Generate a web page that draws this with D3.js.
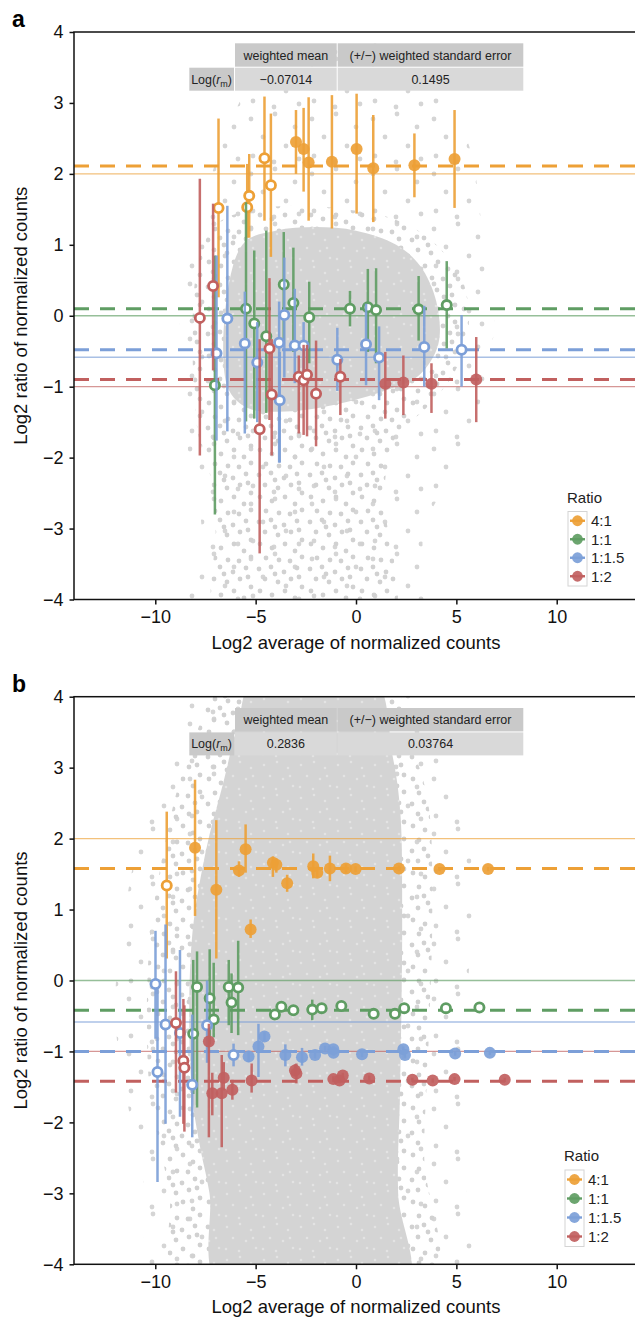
<!DOCTYPE html>
<html>
<head>
<meta charset="utf-8">
<script src="https://cdn.jsdelivr.net/npm/d3@7"></script>
<style>
  body { margin: 0; background: #fff; }
  svg { display: block; font-family: "Liberation Sans", Arial, Helvetica, sans-serif; }
</style>
</head>
<body>
<svg id="chart" width="635" height="1317"></svg>
<script>
// ---- data ----
const ratioLabels = ["4:1", "1:1", "1:1.5", "1:2"];
const trueLog2 = [2, 0, -0.585, -1];
const meanA = [2.11, 0.10, -0.48, -0.90];
const meanB = [1.58, -0.42, -1.00, -1.42];
const xTicks = [-10, -5, 0, 5, 10];
const yTicks = [-4, -3, -2, -1, 0, 1, 2, 3, 4];
const tableHead = ["weighted mean", "(+/\u2212) weighted standard error"];
const tableA = ["\u22120.07014", "0.1495"];
const tableB = ["0.2836", "0.03764"];

// [log2 average, log2 ratio, lower, upper, filled]
const orangeA = [
  [-6.85, 1.52, 0.26, 2.78, 0], [-5.42, 1.53, 1.10, 2.14, 0], [-5.32, 1.69, 1.10, 2.28, 0],
  [-4.56, 2.22, 1.34, 3.09, 0], [-4.24, 1.84, 0.83, 2.85, 0], [-2.99, 2.45, 2.00, 2.90, 1],
  [-2.61, 2.35, 1.75, 2.93, 1], [-2.36, 2.16, 1.34, 3.08, 1], [-1.20, 2.17, 1.23, 3.11, 1],
  [0.03, 2.35, 1.44, 3.13, 1], [0.86, 2.08, 1.32, 2.83, 1], [2.91, 2.12, 1.67, 2.57, 1],
  [4.91, 2.21, 1.52, 2.90, 1]
];
const greenA = [
  [-7.03, -0.98, -2.80, 0.85, 0], [-5.48, 0.10, -1.49, 1.60, 0], [-5.07, -0.11, -1.45, 0.92, 0],
  [-4.47, -0.29, -1.37, 1.20, 0], [-3.60, 0.44, -0.38, 1.18, 0], [-3.12, 0.18, -0.51, 0.96, 0],
  [-2.33, -0.02, -0.67, 0.48, 0], [-0.30, 0.10, -0.15, 0.35, 0], [0.59, 0.12, -0.51, 0.66, 0],
  [1.00, 0.08, -0.67, 0.67, 0], [3.12, 0.09, -0.35, 0.56, 0], [4.52, 0.15, -0.46, 0.77, 0]
];
const blueA = [
  [-6.95, -0.53, -1.76, 0.85, 0], [-6.41, -0.04, -1.63, 1.55, 0], [-5.54, -0.39, -1.66, 0.34, 0],
  [-4.92, -0.66, -1.50, -0.09, 0], [-3.83, -0.38, -2.07, 0.20, 0], [-3.57, 0.01, -0.87, 0.82, 0],
  [-3.05, -0.42, -0.95, 0.38, 0], [-2.61, -0.42, -0.98, -0.09, 0], [-3.80, -1.19, -2.07, -0.51, 0],
  [-0.93, -0.62, -1.06, -0.17, 0], [0.50, -0.40, -0.98, 0.17, 0], [1.15, -0.59, -1.19, -0.15, 0],
  [3.40, -0.44, -1.00, 0.14, 0], [5.26, -0.48, -1.00, 0.01, 0]
];
const redA = [
  [-7.78, -0.03, -1.97, 1.93, 0], [-7.12, 0.42, -0.77, 1.58, 0], [-4.80, -1.60, -3.35, -0.33, 0],
  [-4.31, -0.46, -1.47, 0.53, 0], [-4.20, -1.11, -1.97, -0.33, 0], [-2.85, -0.86, -1.66, -0.56, 0],
  [-2.61, -0.91, -1.68, -0.41, 0], [-2.44, -0.83, -1.70, -0.41, 0], [-1.99, -1.10, -1.84, -0.35, 0],
  [-0.78, -0.86, -1.40, -0.61, 0], [1.46, -0.96, -1.45, -0.51, 1], [2.36, -0.94, -1.40, -0.56, 1],
  [3.76, -0.96, -1.37, -0.67, 1], [5.99, -0.90, -1.50, -0.30, 1]
];

const orangeB = [
  [-9.43, 1.34, 0.31, 2.38, 0], [-8.02, 1.87, 0.91, 2.83, 1], [-6.96, 1.28, 0.31, 2.26, 1],
  [-5.83, 1.55, 1.46, 1.68, 1], [-5.50, 1.85, 1.52, 2.20, 1], [-5.25, 0.72, 0.60, 0.86, 1],
  [-4.14, 1.66, 1.46, 1.75, 1], [-3.97, 1.63, 1.52, 1.72, 1], [-3.43, 1.37, 1.25, 1.49, 1],
  [-2.13, 1.61, 1.44, 1.79, 1], [-1.93, 1.52, 1.45, 1.60, 1], [-1.30, 1.58, 1.40, 1.76, 1],
  [-0.50, 1.58, 1.52, 1.64, 1], [-0.02, 1.57, 1.53, 1.61, 1], [2.14, 1.58, 1.54, 1.62, 1],
  [4.16, 1.57, 1.54, 1.60, 1], [6.58, 1.57, 1.54, 1.60, 1]
];
const greenB = [
  [-7.92, -0.09, -1.79, 0.41, 0], [-8.11, -0.75, -1.60, 0.29, 0], [-7.29, -0.25, -0.90, 0.44, 0],
  [-7.09, -0.55, -0.80, 0.25, 0], [-6.34, -0.09, -0.63, 0.29, 0], [-6.20, -0.31, -0.74, 0.10, 0],
  [-5.87, -0.10, -0.77, 0.56, 0], [-4.04, -0.48, -0.52, -0.44, 0], [-3.72, -0.37, -0.42, -0.32, 0],
  [-3.12, -0.42, -0.46, -0.38, 0], [-2.18, -0.41, -0.56, -0.27, 0], [-1.71, -0.39, -0.43, -0.35, 0],
  [-0.73, -0.36, -0.40, -0.32, 0], [0.88, -0.47, -0.51, -0.43, 0], [1.94, -0.47, -0.51, -0.43, 0],
  [2.40, -0.39, -0.43, -0.35, 0], [4.48, -0.39, -0.42, -0.36, 0], [6.15, -0.38, -0.41, -0.35, 0]
];
const blueB = [
  [-9.99, -0.05, -0.82, 0.70, 0], [-9.89, -1.29, -2.84, -0.10, 0], [-9.49, -0.62, -2.02, 0.79, 0],
  [-8.77, -0.74, -1.92, 0.43, 0], [-8.16, -1.47, -2.21, -0.48, 0], [-7.42, -0.63, -1.16, 0.00, 0],
  [-6.10, -1.05, -1.21, -0.89, 0], [-5.35, -1.07, -1.15, -0.99, 1], [-4.86, -0.93, -1.36, -0.61, 1],
  [-4.56, -0.79, -0.85, -0.73, 1], [-3.52, -1.05, -1.21, -0.90, 1], [-2.69, -1.08, -1.20, -0.95, 1],
  [-2.04, -1.05, -1.10, -1.00, 1], [-1.54, -0.96, -1.00, -0.92, 1], [-1.13, -0.97, -1.01, -0.93, 1],
  [-1.12, -1.02, -1.06, -0.98, 1], [0.30, -1.04, -1.08, -1.00, 1], [2.36, -0.97, -1.01, -0.93, 1],
  [2.44, -1.05, -1.09, -1.01, 1], [4.94, -1.03, -1.06, -1.00, 1], [6.67, -1.02, -1.05, -0.99, 1]
];
const redB = [
  [-8.97, -0.60, -1.58, 0.13, 0], [-8.60, -1.13, -2.02, -0.26, 0], [-8.55, -1.23, -2.13, -0.35, 0],
  [-7.33, -0.86, -2.21, -0.61, 1], [-7.16, -1.59, -1.90, -1.30, 1], [-6.69, -1.59, -2.35, -1.05, 1],
  [-6.59, -1.37, -1.55, -1.15, 1], [-6.16, -1.54, -1.68, -1.40, 1], [-5.20, -1.41, -1.58, -1.17, 1],
  [-3.04, -1.27, -1.35, -1.18, 1], [-2.97, -1.31, -1.45, -1.17, 1], [-1.13, -1.39, -1.43, -1.35, 1],
  [-0.82, -1.41, -1.45, -1.37, 1], [-0.66, -1.34, -1.38, -1.30, 1], [0.66, -1.38, -1.42, -1.34, 1],
  [2.81, -1.40, -1.43, -1.37, 1], [3.82, -1.41, -1.44, -1.38, 1], [4.91, -1.39, -1.42, -1.36, 1],
  [7.41, -1.40, -1.43, -1.37, 1]
];

// outlines of the grey background cloud (sparse / medium / dense parts)
const cloudSparseA = [[-8.7,-1.2],[-8.6,0.6],[-7.6,1.6],[-6.3,2.7],[-4.8,3.4],[-2,3.6],[1,3.95],[3.5,3.3],[5.5,2.5],[6.3,1.2],[6.9,0],[6.2,-1.2],[4.8,-2.2],[3.4,-3],[3,-4.3],[-8.3,-4.3],[-7.7,-3],[-8.3,-2]];
const cloudMediumA = [[-7.9,-1.6],[-7.9,0.7],[-6.9,1.3],[-5,1.5],[-3,1.55],[-0.5,1.5],[2,1.35],[3.8,1.05],[5.3,0.5],[5.6,-0.2],[4.9,-0.8],[3.5,-1.3],[2,-1.7],[1.4,-2.5],[1.7,-4.3],[-6.8,-4.3],[-7,-3],[-7.3,-2.2]];
const cloudDenseA = [[-6.4,-1.0],[-6.3,0.5],[-5.5,1.05],[-4,1.2],[-2,1.25],[0,1.2],[2,1.0],[3.2,0.7],[4,0.2],[4.1,-0.4],[3.1,-0.85],[1.5,-1.05],[-1,-1.25],[-3.5,-1.35],[-5.4,-1.3]];
const cloudSparseB = [[-12,-0.5],[-11.5,1],[-10.5,2.3],[-9,3.4],[-7.5,4.3],[2,4.3],[3.5,3.5],[5.2,2.6],[5.8,1.5],[5.5,-0.5],[5.3,-2.5],[5.5,-4.3],[-10,-4.3],[-10.5,-3],[-11.2,-2]];
const cloudMediumB = [[-10.3,-1.5],[-10.3,0.5],[-9.6,1.8],[-8.8,2.8],[-7.8,3.6],[-6.8,4.3],[1.5,4.3],[2.8,3.3],[3.6,2.5],[3.8,1],[3.6,-1],[3.4,-2.5],[3.8,-4.3],[-8.8,-4.3],[-9.3,-3],[-9.8,-2.3]];
const cloudDenseB = [[-8.2,-1.5],[-8.2,0.5],[-7.5,1.8],[-6.6,2.8],[-5.9,3.6],[-5,4.3],[0.8,4.3],[1.8,3.2],[2.2,2.4],[2.3,0.8],[2.2,-1.5],[2.1,-3],[2.5,-4.3],[-6.8,-4.3],[-7.3,-3],[-7.8,-2.3]];

const colors = ["#eda036", "#5f9d63", "#7c9fd8", "#c1605f"];

const svg = d3.select("#chart");
const defs = svg.append("defs");

// stipple textures for the grey cloud (irregular dots so the tiling is less visible)
function stipple(id, w, h, dots, bg, dotFill, r) {
  const p = defs.append("pattern").attr("id", id)
    .attr("patternUnits", "userSpaceOnUse").attr("width", w).attr("height", h);
  if (bg) p.append("rect").attr("width", w).attr("height", h).attr("fill", bg);
  dots.forEach(d => p.append("circle").attr("cx", d[0]).attr("cy", d[1]).attr("r", r).attr("fill", dotFill));
}
stipple("dotsSparse", 61, 55,
  [[7,9],[31,4],[51,17],[19,27],[42,36],[9,46],[55,49],[30,52]], null, "#d5d5d5", 2.4);
stipple("dotsMedium", 51, 47,
  [[4,5],[16,3],[29,8],[42,4],[10,15],[23,18],[36,15],[47,23],[5,27],[17,31],[30,27],[40,34],
   [11,41],[24,43],[35,44],[47,40],[20,10],[44,13]], null, "#d1d1d1", 2.4);
stipple("dotsDense", 37, 33,
  [[5,6],[18,3],[29,9],[11,17],[24,20],[34,27],[4,28],[17,30],[31,17]], "#d4d4d4", "#e3e3e3", 1.3);

function drawPanel(p) {
  const x = d3.scaleLinear().domain([-14.05, 14]).range([74, 637]);
  const y = d3.scaleLinear().domain([-4, 4]).range([p.bottom, p.top]);
  const g = svg.append("g");

  defs.append("clipPath").attr("id", "clip" + p.key)
    .append("rect").attr("x", 74).attr("y", p.top).attr("width", 563).attr("height", p.bottom - p.top);
  const plot = g.append("g").attr("clip-path", `url(#clip${p.key})`);

  // background cloud
  const blob = d3.line().x(d => x(d[0])).y(d => y(d[1])).curve(d3.curveCatmullRomClosed);
  [[p.sparse, "url(#dotsSparse)"], [p.medium, "url(#dotsMedium)"], [p.dense, "url(#dotsDense)"]]
    .forEach(c => plot.append("path").attr("d", blob(c[0])).attr("fill", c[1]));

  // expected ratios (thin) and weighted estimates (dashed)
  plot.selectAll(".trueLine").data(trueLog2).enter().append("line")
    .attr("x1", 74).attr("x2", 637)
    .attr("y1", d => y(d)).attr("y2", d => y(d))
    .attr("stroke", (d, i) => colors[i]).attr("stroke-width", 1.3).attr("opacity", 0.65);
  plot.selectAll(".meanLine").data(p.means).enter().append("line")
    .attr("x1", 74).attr("x2", 637)
    .attr("y1", d => y(d)).attr("y2", d => y(d))
    .attr("stroke", (d, i) => colors[i]).attr("stroke-width", 3)
    .attr("stroke-dasharray", "15,11");

  // error bars + markers, one group per ratio
  p.series.forEach((s, i) => {
    const sg = plot.append("g");
    sg.selectAll("line").data(s).enter().append("line")
      .attr("x1", d => x(d[0])).attr("x2", d => x(d[0]))
      .attr("y1", d => y(d[2])).attr("y2", d => y(d[3]))
      .attr("stroke", colors[i]).attr("stroke-width", 2.5).attr("opacity", 0.9);
    sg.selectAll("circle").data(s).enter().append("circle")
      .attr("cx", d => x(d[0])).attr("cy", d => y(d[1]))
      .attr("r", d => d[4] ? 6 : 4.6)
      .attr("fill", d => d[4] ? colors[i] : "#fff")
      .attr("fill-opacity", d => d[4] ? 0.92 : 1)
      .attr("stroke", d => d[4] ? "none" : colors[i])
      .attr("stroke-width", 2.8);
  });

  // summary table
  const t = g.append("g").attr("transform", `translate(0,${p.top})`).style("font-size", "12.5px").attr("fill", "#222");
  const cells = [
    {x0: 235, x1: 336.7, y0: 11.3, y1: 34.7, fill: "#c9c9c9", text: tableHead[0]},
    {x0: 337.7, x1: 523.3, y0: 11.3, y1: 34.7, fill: "#c9c9c9", text: tableHead[1]},
    {x0: 189.3, x1: 234, y0: 35.7, y1: 58.7, fill: "#c9c9c9", text: null},
    {x0: 235, x1: 336.7, y0: 35.7, y1: 58.7, fill: "#d9d9d9", text: p.table[0]},
    {x0: 337.7, x1: 523.3, y0: 35.7, y1: 58.7, fill: "#d9d9d9", text: p.table[1]}
  ];
  cells.forEach(c => {
    t.append("rect").attr("x", c.x0).attr("y", c.y0).attr("width", c.x1 - c.x0).attr("height", c.y1 - c.y0).attr("fill", c.fill);
    if (c.text) t.append("text").attr("x", (c.x0 + c.x1) / 2).attr("y", (c.y0 + c.y1) / 2 + 4.5)
      .attr("text-anchor", "middle").text(c.text);
  });
  const lg = t.append("text").attr("x", 211.6).attr("y", 51.5).attr("text-anchor", "middle");
  lg.append("tspan").text("Log(");
  lg.append("tspan").style("font-style", "italic").text("r");
  lg.append("tspan").attr("dy", 3).style("font-size", "9px").text("m");
  lg.append("tspan").attr("dy", -3).text(")");

  // frame and axes
  g.append("rect").attr("x", 74).attr("y", p.top).attr("width", 563).attr("height", p.bottom - p.top)
    .attr("fill", "none").attr("stroke", "#111").attr("stroke-width", 1.5);
  const ya = g.append("g").attr("transform", "translate(74,0)")
    .call(d3.axisLeft(y).tickValues(yTicks).tickSize(4.5).tickPadding(6).tickFormat(d3.format("d")));
  const xa = g.append("g").attr("transform", `translate(0,${p.bottom})`)
    .call(d3.axisBottom(x).tickValues(xTicks).tickSize(5).tickPadding(6).tickFormat(d3.format("d")));
  [ya, xa].forEach(a => {
    a.select(".domain").remove();
    a.selectAll("line").attr("stroke", "#111").attr("stroke-width", 1.5);
    a.selectAll("text").attr("fill", "#111").style("font-size", "18px")
      .style("font-family", "'Liberation Sans', Arial, sans-serif");
  });

  g.append("text").attr("x", 356).attr("y", p.bottom + 49).attr("text-anchor", "middle")
    .style("font-size", "18.5px").attr("fill", "#111").text("Log2 average of normalized counts");
  g.append("text").attr("transform", `translate(27,${(p.top + p.bottom) / 2}) rotate(-90)`)
    .attr("text-anchor", "middle").style("font-size", "18.5px").attr("fill", "#111")
    .text("Log2 ratio of normalized counts");
  g.append("text").attr("x", 12).attr("y", p.top - 5).style("font-size", "23px").style("font-weight", "bold")
    .attr("fill", "#000").text(p.key);

  // legend
  const L = g.append("g").attr("transform", `translate(${p.legX},${p.legY})`);
  L.append("text").attr("x", -1).attr("y", -9).style("font-size", "15px").attr("fill", "#222").text("Ratio");
  L.append("rect").attr("x", 0).attr("y", 0).attr("width", 19).attr("height", 4 * p.legStep + 0.5)
    .attr("fill", "#fff").attr("stroke", "#d4d4d4").attr("stroke-width", 1);
  ratioLabels.forEach((r, i) => {
    const cy = p.legStep * (i + 0.5);
    L.append("line").attr("x1", 2).attr("x2", 17).attr("y1", cy).attr("y2", cy)
      .attr("stroke", colors[i]).attr("stroke-width", 2.4);
    L.append("circle").attr("cx", 9.5).attr("cy", cy).attr("r", 5.4).attr("fill", colors[i]).attr("fill-opacity", 0.92);
    L.append("text").attr("x", 23).attr("y", cy + 5.5).style("font-size", "15px").attr("fill", "#222").text(r);
  });
}

drawPanel({key: "a", top: 32, bottom: 599.5, means: meanA, table: tableA,
  series: [orangeA, greenA, blueA, redA],
  sparse: cloudSparseA, medium: cloudMediumA, dense: cloudDenseA,
  legX: 568, legY: 511.5, legStep: 18.5});
drawPanel({key: "b", top: 696.7, bottom: 1264.3, means: meanB, table: tableB,
  series: [orangeB, greenB, blueB, redB],
  sparse: cloudSparseB, medium: cloudMediumB, dense: cloudDenseB,
  legX: 565, legY: 1170, legStep: 19});
</script>
</body>
</html>
